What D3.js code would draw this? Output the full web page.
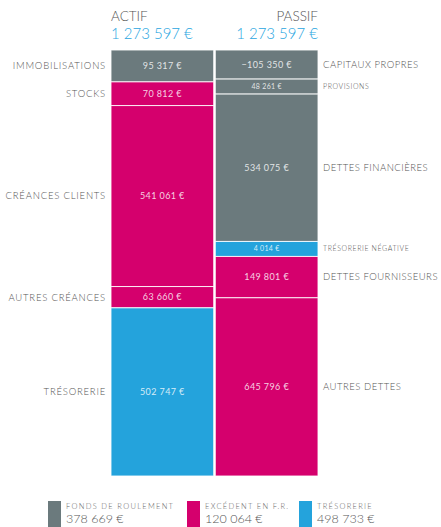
<!DOCTYPE html>
<html>
<head>
<meta charset="utf-8">
<script src="https://cdn.jsdelivr.net/npm/d3@7/dist/d3.min.js"></script>
<style>
  body { margin: 0; background: #fff; }
  text { font-family: "Lato", "Open Sans", sans-serif; font-weight: 300; }
</style>
</head>
<body>
<div id="chart"></div>
<script>
'use strict'

// data
const actifLabels = ['IMMOBILISATIONS', 'STOCKS', 'CRÉANCES CLIENTS', 'AUTRES CRÉANCES', 'TRÉSORERIE'];
const actifValues = [95317, 70812, 541061, 63660, 502747];
const actifKinds  = ['fr', 'bfr', 'bfr', 'bfr', 'treso'];

const passifLabels = ['CAPITAUX PROPRES', 'PROVISIONS', 'DETTES FINANCIÈRES', 'TRÉSORERIE NÉGATIVE', 'DETTES FOURNISSEURS', 'AUTRES DETTES'];
const passifValues = [-105350, 48261, 534075, 4014, 149801, 645796];
const passifKinds  = ['fr', 'fr', 'fr', 'treso', 'bfr', 'bfr'];

const totalActif = 1273597;
const totalPassif = 1273597;

const legendLabels = ['FONDS DE ROULEMENT', 'EXCÉDENT EN F.R.', 'TRÉSORERIE'];
const legendValues = [378669, 120064, 498733];
const legendKinds  = ['fr', 'bfr', 'treso'];

const w = 441, h = 527;
const barTop = 50, barBottom = 476;
const H = barBottom - barTop;
const minH = 15;

const color = d3.scaleOrdinal()
    .domain(['fr', 'bfr', 'treso'])
    .range(['#6b7a7d', '#d5006d', '#24a3dc']);

const fmt = v => d3.format(',d')(v).replace(/,/g, ' ') + ' €';

// stacked layout with a minimum height for the tiny segments
function stack(values) {
    const abs = values.map(Math.abs);
    let fixed = abs.map(() => false);
    for (let it = 0; it < 5; it++) {
        const nFixed = fixed.filter(f => f).length;
        const rest = d3.sum(abs.filter((v, i) => !fixed[i]));
        const k = (H - nFixed * minH) / rest;
        fixed = abs.map(v => v * k < minH);
    }
    const nFixed = fixed.filter(f => f).length;
    const rest = d3.sum(abs.filter((v, i) => !fixed[i]));
    const y = d3.scaleLinear().domain([0, rest]).range([0, H - nFixed * minH]);
    let cur = barTop;
    return abs.map((v, i) => {
        const hh = fixed[i] ? minH : y(v);
        const seg = {y0: cur, h: hh, small: fixed[i] || hh < 20};
        cur += hh;
        return seg;
    });
}

const x = d3.scaleBand().domain(['actif', 'passif']).range([111, 318]).paddingInner(0.015);

const svg = d3.select('#chart').append('svg')
    .attr('width', w).attr('height', h);

function drawBar(key, labels, values, kinds, side) {
    const segs = stack(values);
    const g = svg.append('g');
    const x0 = x(key), bw = x.bandwidth();

    g.selectAll('rect').data(values).enter().append('rect')
        .attr('x', x0)
        .attr('y', (d, i) => segs[i].y0)
        .attr('width', bw)
        .attr('height', (d, i) => segs[i].h)
        .attr('fill', (d, i) => color(kinds[i]))
        .attr('stroke', '#fff')
        .attr('stroke-opacity', 0.85)
        .attr('stroke-width', 1);

    g.selectAll('text.val').data(values).enter().append('text')
        .attr('class', 'val')
        .attr('x', x0 + bw / 2)
        .attr('y', (d, i) => segs[i].y0 + segs[i].h / 2)
        .attr('dy', '0.35em')
        .attr('text-anchor', 'middle')
        .attr('fill', 'rgba(255,255,255,0.82)')
        .style('font-weight', 400)
        .style('font-size', (d, i) => segs[i].small ? '7px' : '9px')
        .style('letter-spacing', (d, i) => segs[i].small ? '0.3px' : '0.4px')
        .text(d => fmt(d));

    g.selectAll('text.lab').data(labels).enter().append('text')
        .attr('class', 'lab')
        .attr('x', side === 'left' ? x0 - 5 : x0 + bw + 5)
        .attr('y', (d, i) => segs[i].y0 + segs[i].h / 2)
        .attr('dy', '0.35em')
        .attr('text-anchor', side === 'left' ? 'end' : 'start')
        .attr('fill', '#555')
        .style('font-size', (d, i) => segs[i].small ? '7px' : '9.5px')
        .style('letter-spacing', (d, i) => segs[i].small ? '0.6px' : (side === 'left' ? '0.8px' : '0.5px'))
        .text(d => d);
}

drawBar('actif', actifLabels, actifValues, actifKinds, 'left');
drawBar('passif', passifLabels, passifValues, passifKinds, 'right');

// headers
const heads = [
    {t: 'ACTIF', v: totalActif, x: x('actif'), a: 'start'},
    {t: 'PASSIF', v: totalPassif, x: x('passif') + x.bandwidth(), a: 'end'}
];
heads.forEach(hd => {
    svg.append('text').text(hd.t)
        .attr('x', hd.x).attr('y', 21)
        .attr('text-anchor', hd.a)
        .attr('fill', '#555')
        .style('font-size', '13.5px');
    svg.append('text').text(fmt(hd.v))
        .attr('x', hd.x).attr('y', 39)
        .attr('text-anchor', hd.a)
        .attr('fill', '#2aa6df')
        .style('font-size', '15px');
});

// legend
const legX = [48, 187, 299];
const leg = svg.append('g');
legendLabels.forEach((l, i) => {
    leg.append('rect')
        .attr('x', legX[i]).attr('y', 501)
        .attr('width', 13).attr('height', 26)
        .attr('fill', color(legendKinds[i]));
    leg.append('text').text(l)
        .attr('x', legX[i] + 18).attr('y', 509)
        .attr('fill', '#666')
        .style('font-size', '7.5px')
        .style('letter-spacing', '1.3px');
    leg.append('text').text(fmt(legendValues[i]))
        .attr('x', legX[i] + 18).attr('y', 523)
        .attr('fill', '#555')
        .style('font-size', '12.5px');
});
</script>
</body>
</html>
